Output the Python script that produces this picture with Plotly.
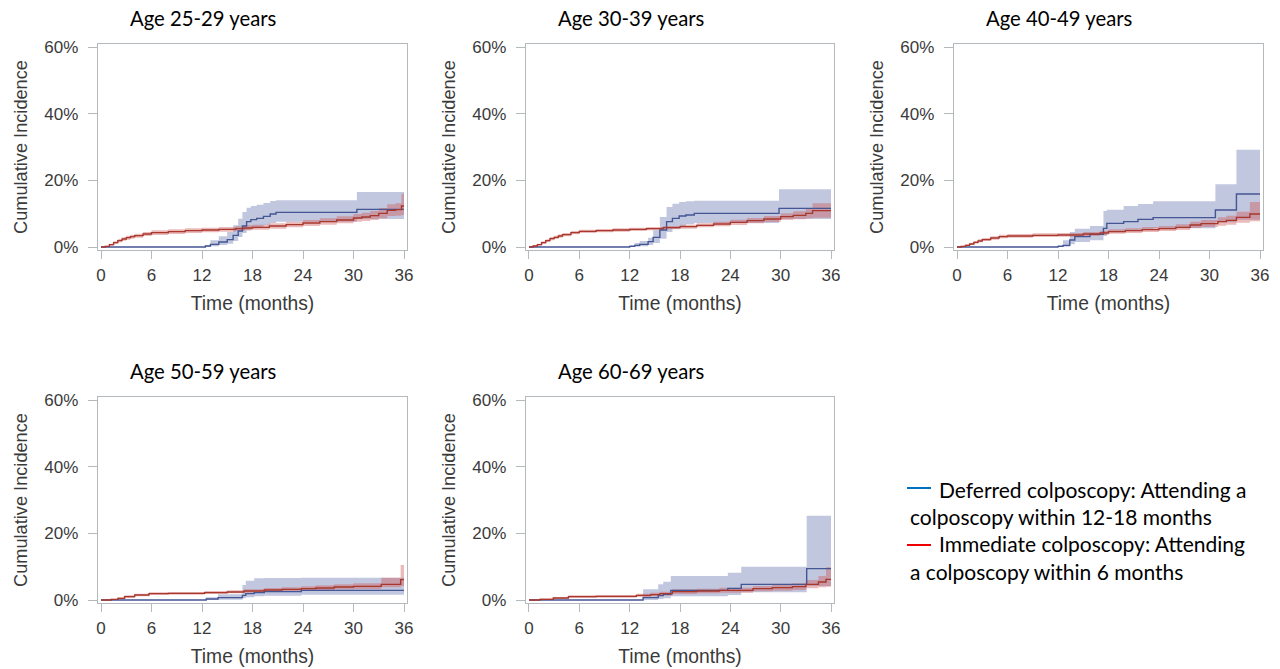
import plotly.graph_objects as go

# ---------------- data (months, cumulative incidence in %) ----------------
PANEL_TITLES = ["Age 25-29 years", "Age 30-39 years", "Age 40-49 years",
                "Age 50-59 years", "Age 60-69 years"]
X_TICKS = [0, 6, 12, 18, 24, 30, 36]
Y_TICKS = [0, 20, 40, 60]
Y_TICK_LABELS = ["0%", "20%", "40%", "60%"]
LEGEND_DEF = ["Deferred colposcopy: Attending a", "colposcopy within 12-18 months"]
LEGEND_IMM = ["Immediate colposcopy: Attending", "a colposcopy within 6 months"]

# Age 25-29
T_DEF_A = [0, 12.4, 13.0, 14.0, 15.0, 15.7, 16.3, 16.8, 17.3, 17.8, 18.5, 19.3, 20.1, 20.8, 30.4, 36]
DEF_A = [0, 0.3, 0.8, 1.5, 2.2, 3.5, 4.8, 6.3, 7.6, 8.2, 8.6, 9.2, 9.9, 10.4, 11.3, 11.3]
DEF_LO_A = [0, 0, 0.2, 0.6, 1.0, 1.8, 3.0, 4.2, 5.0, 5.6, 6.0, 6.6, 7.2, 7.6, 8.4, 8.4]
DEF_HI_A = [0, 0.6, 2.0, 3.2, 4.5, 6.5, 8.5, 10.5, 11.8, 12.3, 12.7, 13.2, 13.8, 14.0, 16.5, 16.5]
T_IMM_A = [0, 0.5, 1.0, 1.5, 2.0, 2.5, 3.0, 3.5, 4.0, 5.0, 6.0, 8.0, 10.0, 12.0, 14.0, 16.0, 17.0, 18.0,
           20.0, 22.0, 24.0, 26.0, 28.0, 30.0, 31.0, 32.0, 33.0, 34.0, 35.0, 35.7, 36]
IMM_A = [0, 0.2, 0.7, 1.3, 1.9, 2.4, 2.8, 3.1, 3.4, 3.9, 4.3, 4.6, 4.9, 5.1, 5.3, 5.5, 5.7, 5.9,
         6.3, 6.7, 7.2, 7.6, 8.1, 8.7, 9.0, 9.4, 10.1, 11.0, 11.2, 12.3, 12.3]
IMM_LO_A = [0, 0.0, 0.4, 0.9, 1.4, 1.9, 2.2, 2.5, 2.8, 3.3, 3.6, 3.9, 4.2, 4.4, 4.6, 4.8, 5.0, 5.2,
            5.5, 5.9, 6.3, 6.7, 7.1, 7.6, 7.8, 8.1, 8.6, 9.3, 9.4, 9.6, 9.6]
IMM_HI_A = [0, 0.4, 1.0, 1.7, 2.4, 2.9, 3.4, 3.7, 4.0, 4.5, 5.0, 5.3, 5.6, 5.8, 6.0, 6.2, 6.5, 6.7,
            7.1, 7.6, 8.1, 8.6, 9.2, 9.9, 10.3, 10.8, 11.7, 12.8, 13.1, 16.0, 16.0]

# Age 30-39
T_DEF_B = [0, 12.0, 12.6, 13.2, 14.2, 14.8, 15.6, 16.4, 17.1, 17.9, 18.7, 19.7, 29.8, 36]
DEF_B = [0, 0.2, 0.5, 0.8, 1.6, 2.9, 5.1, 7.6, 8.6, 9.3, 9.6, 10.1, 11.6, 11.6]
DEF_LO_B = [0, 0, 0.1, 0.2, 0.6, 1.2, 2.5, 4.5, 5.5, 6.3, 6.8, 7.2, 8.4, 8.4]
DEF_HI_B = [0, 0.6, 1.2, 1.8, 2.8, 5.0, 9.0, 12.0, 13.0, 13.5, 13.7, 13.9, 17.3, 17.3]
T_IMM_B = [0, 0.5, 1.0, 1.5, 2.0, 2.5, 3.0, 3.5, 4.0, 5.0, 6.0, 8.0, 10.0, 12.0, 14.0, 16.0, 18.0,
           20.0, 22.0, 24.0, 26.0, 28.0, 30.0, 31.5, 33.0, 33.8, 36]
IMM_B = [0, 0.3, 0.7, 1.3, 1.9, 2.5, 2.9, 3.3, 3.7, 4.3, 4.7, 4.9, 5.1, 5.3, 5.5, 5.8, 6.1,
         6.5, 6.9, 7.4, 7.9, 8.4, 9.1, 9.5, 10.1, 10.9, 10.9]
IMM_LO_B = [0, 0.1, 0.4, 0.9, 1.5, 2.0, 2.4, 2.8, 3.2, 3.8, 4.2, 4.4, 4.6, 4.8, 5.0, 5.3, 5.5,
            5.9, 6.2, 6.6, 7.1, 7.5, 8.1, 8.3, 8.6, 8.8, 8.8]
IMM_HI_B = [0, 0.5, 1.0, 1.7, 2.3, 3.0, 3.4, 3.8, 4.2, 4.8, 5.2, 5.4, 5.6, 5.8, 6.0, 6.3, 6.7,
            7.1, 7.6, 8.2, 8.7, 9.3, 10.1, 10.7, 11.6, 13.1, 13.1]

# Age 40-49
T_DEF_C = [0, 12.0, 12.6, 13.4, 14.0, 15.8, 17.4, 17.8, 19.8, 21.5, 23.3, 30.7, 33.2, 36]
DEF_C = [0, 0.2, 0.5, 2.1, 3.1, 3.8, 5.6, 7.1, 7.6, 8.3, 8.8, 11.1, 15.9, 15.9]
DEF_LO_C = [0, 0, 0.1, 0.8, 1.5, 2.0, 3.3, 4.4, 4.8, 5.2, 5.6, 7.4, 8.2, 8.2]
DEF_HI_C = [0, 0.6, 2.0, 4.5, 5.5, 6.3, 10.8, 11.2, 12.3, 12.9, 13.7, 18.8, 29.2, 29.2]
T_IMM_C = [0, 0.5, 1.0, 1.5, 2.0, 2.5, 3.0, 4.0, 5.0, 6.0, 9.0, 12.0, 15.0, 17.0, 18.0, 20.0, 22.0,
           24.0, 26.0, 27.7, 29.0, 31.0, 32.0, 33.2, 34.8, 36]
IMM_C = [0, 0.2, 0.5, 0.9, 1.4, 1.8, 2.2, 2.7, 3.1, 3.3, 3.5, 3.6, 3.9, 4.2, 4.6, 4.9, 5.2,
         5.5, 5.9, 6.6, 7.0, 7.6, 8.0, 8.9, 9.9, 9.9]
IMM_LO_C = [0, 0.0, 0.2, 0.6, 1.0, 1.4, 1.8, 2.2, 2.6, 2.8, 3.0, 3.1, 3.3, 3.6, 4.0, 4.2, 4.5,
            4.8, 5.1, 5.7, 6.0, 6.4, 6.7, 7.3, 7.7, 7.7]
IMM_HI_C = [0, 0.4, 0.8, 1.3, 1.8, 2.3, 2.7, 3.2, 3.7, 3.9, 4.1, 4.2, 4.5, 4.9, 5.3, 5.6, 6.0,
            6.3, 6.8, 7.6, 8.1, 8.9, 9.4, 10.6, 13.5, 13.5]

# Age 50-59
T_DEF_D = [0, 12.5, 13.9, 16.8, 17.2, 18.2, 19.4, 23.8, 36]
DEF_D = [0, 0.3, 0.7, 1.4, 1.9, 2.2, 2.5, 2.9, 2.9]
DEF_LO_D = [0, 0, 0.1, 0.5, 0.8, 1.1, 1.3, 1.6, 1.6]
DEF_HI_D = [0, 0.8, 1.7, 4.5, 5.8, 6.5, 6.6, 6.7, 6.7]
T_IMM_D = [0, 1.2, 2.0, 2.8, 4.0, 5.7, 8.0, 12.3, 15.0, 17.0, 19.4, 21.5, 23.8, 25.5, 27.7, 30.0, 33.3, 35.6, 36]
IMM_D = [0, 0.2, 0.5, 1.0, 1.5, 1.9, 2.0, 2.2, 2.4, 2.7, 3.0, 3.2, 3.4, 3.6, 3.9, 4.1, 4.7, 6.1, 6.1]
IMM_LO_D = [0, 0.0, 0.2, 0.6, 1.1, 1.5, 1.6, 1.8, 2.0, 2.2, 2.4, 2.6, 2.8, 2.9, 3.2, 3.3, 3.8, 4.2, 4.2]
IMM_HI_D = [0, 0.4, 0.8, 1.4, 1.9, 2.3, 2.4, 2.7, 2.9, 3.2, 3.6, 3.8, 4.1, 4.4, 4.7, 5.0, 6.7, 10.5, 10.5]

# Age 60-69
T_DEF_E = [0, 13.6, 15.4, 16.0, 16.9, 23.7, 25.3, 33.1, 36]
DEF_E = [0, 0.7, 1.3, 1.7, 2.9, 3.5, 4.7, 9.4, 9.4]
DEF_LO_E = [0, 0, 0.3, 0.5, 1.1, 1.5, 2.3, 4.2, 4.2]
DEF_HI_E = [0, 3.2, 4.7, 5.5, 7.2, 8.2, 10.0, 25.3, 25.3]
T_IMM_E = [0, 1.3, 2.9, 4.7, 8.0, 12.8, 14.5, 15.6, 17.1, 20.0, 22.7, 26.7, 29.0, 31.4, 33.0, 34.5, 35.4, 36]
IMM_E = [0, 0.2, 0.6, 1.0, 1.1, 1.4, 1.6, 1.9, 2.5, 2.7, 2.9, 3.4, 3.7, 4.0, 4.7, 5.4, 6.2, 6.2]
IMM_LO_E = [0, 0.0, 0.3, 0.6, 0.7, 0.9, 1.1, 1.3, 1.8, 2.0, 2.2, 2.6, 2.8, 3.0, 3.5, 3.8, 4.0, 4.0]
IMM_HI_E = [0, 0.5, 0.9, 1.4, 1.5, 1.9, 2.2, 2.5, 3.2, 3.4, 3.7, 4.2, 4.6, 5.0, 6.0, 7.2, 9.8, 9.8]

PANELS = [
    (T_DEF_A, DEF_A, DEF_LO_A, DEF_HI_A, T_IMM_A, IMM_A, IMM_LO_A, IMM_HI_A),
    (T_DEF_B, DEF_B, DEF_LO_B, DEF_HI_B, T_IMM_B, IMM_B, IMM_LO_B, IMM_HI_B),
    (T_DEF_C, DEF_C, DEF_LO_C, DEF_HI_C, T_IMM_C, IMM_C, IMM_LO_C, IMM_HI_C),
    (T_DEF_D, DEF_D, DEF_LO_D, DEF_HI_D, T_IMM_D, IMM_D, IMM_LO_D, IMM_HI_D),
    (T_DEF_E, DEF_E, DEF_LO_E, DEF_HI_E, T_IMM_E, IMM_E, IMM_LO_E, IMM_HI_E),
]

# ---------------- styling / layout ----------------
W, H = 1280, 669


def fx(px):
    return px / W


def fy(py):
    return 1 - py / H


# plot-area pixel boxes in window coordinates (left, right, top, bottom)
BOXES = [(98, 407, 44, 250), (526, 834, 44, 250), (954, 1263, 44, 250),
         (98, 407, 397, 603), (526, 834, 397, 603)]
DEF_LINE = "#445694"
DEF_FILL = "rgba(111,126,179,0.43)"
IMM_LINE = "#A8372C"
IMM_FILL = "rgba(208,91,91,0.42)"
FRAME = "#B4B9BE"
TXT = "#3a3a3a"
SANS = "Liberation Sans, Arial, sans-serif"
TICK_FONT = dict(family=SANS, size=17, color=TXT)
CAL_FONT = "Lato, Carlito, Calibri, sans-serif"

fig = go.Figure()
layout_axes = {}
annotations = []
for i, (panel, box, title) in enumerate(zip(PANELS, BOXES, PANEL_TITLES)):
    n = i + 1
    xa = "x" if n == 1 else f"x{n}"
    ya = "y" if n == 1 else f"y{n}"
    td, d, dlo, dhi, ti, im, ilo, ihi = panel
    common = dict(xaxis=xa, yaxis=ya, mode="lines", line_shape="hv", showlegend=False, hoverinfo="skip")
    fig.add_trace(go.Scatter(x=td, y=dlo, line=dict(width=0, color=DEF_FILL), **common))
    fig.add_trace(go.Scatter(x=td, y=dhi, line=dict(width=0, color=DEF_FILL), fill="tonexty",
                             fillcolor=DEF_FILL, **common))
    fig.add_trace(go.Scatter(x=ti, y=ilo, line=dict(width=0, color=IMM_FILL), **common))
    fig.add_trace(go.Scatter(x=ti, y=ihi, line=dict(width=0, color=IMM_FILL), fill="tonexty",
                             fillcolor=IMM_FILL, **common))
    fig.add_trace(go.Scatter(x=td, y=d, line=dict(width=1.4, color=DEF_LINE), **common))
    fig.add_trace(go.Scatter(x=ti, y=im, line=dict(width=1.4, color=IMM_LINE), **common))

    l, r, t, b = box
    xk = "xaxis" if n == 1 else f"xaxis{n}"
    yk = "yaxis" if n == 1 else f"yaxis{n}"
    layout_axes[xk] = dict(
        domain=[fx(l), fx(r)], anchor=ya, range=[-0.356, 36.356],
        tickmode="array", tickvals=X_TICKS, ticks="outside", ticklen=8, tickcolor=FRAME,
        showline=True, linecolor=FRAME, linewidth=1.2, mirror=True, showgrid=False, zeroline=False,
        tickfont=TICK_FONT, ticklabelstandoff=1,
        title=dict(text="Time (months)", font=dict(family=SANS, size=19.3, color=TXT), standoff=12),
        automargin=False,
    )
    layout_axes[yk] = dict(
        domain=[fy(b), fy(t)], anchor=xa, range=[-0.9, 60.9],
        tickmode="array", tickvals=Y_TICKS, ticktext=Y_TICK_LABELS, ticks="outside", ticklen=9,
        tickcolor=FRAME,
        showline=True, linecolor=FRAME, linewidth=1.2, mirror=True, showgrid=False, zeroline=False,
        tickfont=TICK_FONT, ticklabelstandoff=6,
        title=dict(text="Cumulative Incidence", font=dict(family=SANS, size=18.2, color=TXT), standoff=12),
        automargin=False,
    )
    annotations.append(dict(
        text=title, xref="paper", yref="paper", x=fx(l + 30), y=fy(t - 26),
        xanchor="left", yanchor="middle", showarrow=False,
        font=dict(family=CAL_FONT, size=20.3, color="#000000"),
    ))

# legend as text lines
LEG_X_LINE0, LEG_X_LINE1, LEG_TEXT_X, LEG_WRAP_X = 907, 931, 937, 908
leg_rows = [(LEGEND_DEF[0], LEG_TEXT_X, 489), (LEGEND_DEF[1], LEG_WRAP_X, 516),
            (LEGEND_IMM[0], LEG_TEXT_X, 543), (LEGEND_IMM[1], LEG_WRAP_X, 571)]
for txt, x, y in leg_rows:
    annotations.append(dict(
        text=txt, xref="paper", yref="paper", x=fx(x), y=fy(y),
        xanchor="left", yanchor="middle", showarrow=False,
        font=dict(family=CAL_FONT, size=21, color="#000000"),
    ))
shapes = [
    dict(type="line", xref="paper", yref="paper", x0=fx(LEG_X_LINE0), x1=fx(LEG_X_LINE1),
         y0=fy(488), y1=fy(488), line=dict(color="#0070C0", width=2)),
    dict(type="line", xref="paper", yref="paper", x0=fx(LEG_X_LINE0), x1=fx(LEG_X_LINE1),
         y0=fy(545), y1=fy(545), line=dict(color="#EE0000", width=2)),
]

fig.update_layout(
    width=W, height=H, margin=dict(l=0, r=0, t=0, b=0),
    paper_bgcolor="white", plot_bgcolor="white", hovermode=False,
    annotations=annotations, shapes=shapes, **layout_axes,
)
# remove the browser's default page margin so the figure fills the window exactly
fig.write_html("out.html", config={"displayModeBar": False, "staticPlot": True},
               post_script="document.body.style.margin='0';document.body.style.overflow='hidden';")
